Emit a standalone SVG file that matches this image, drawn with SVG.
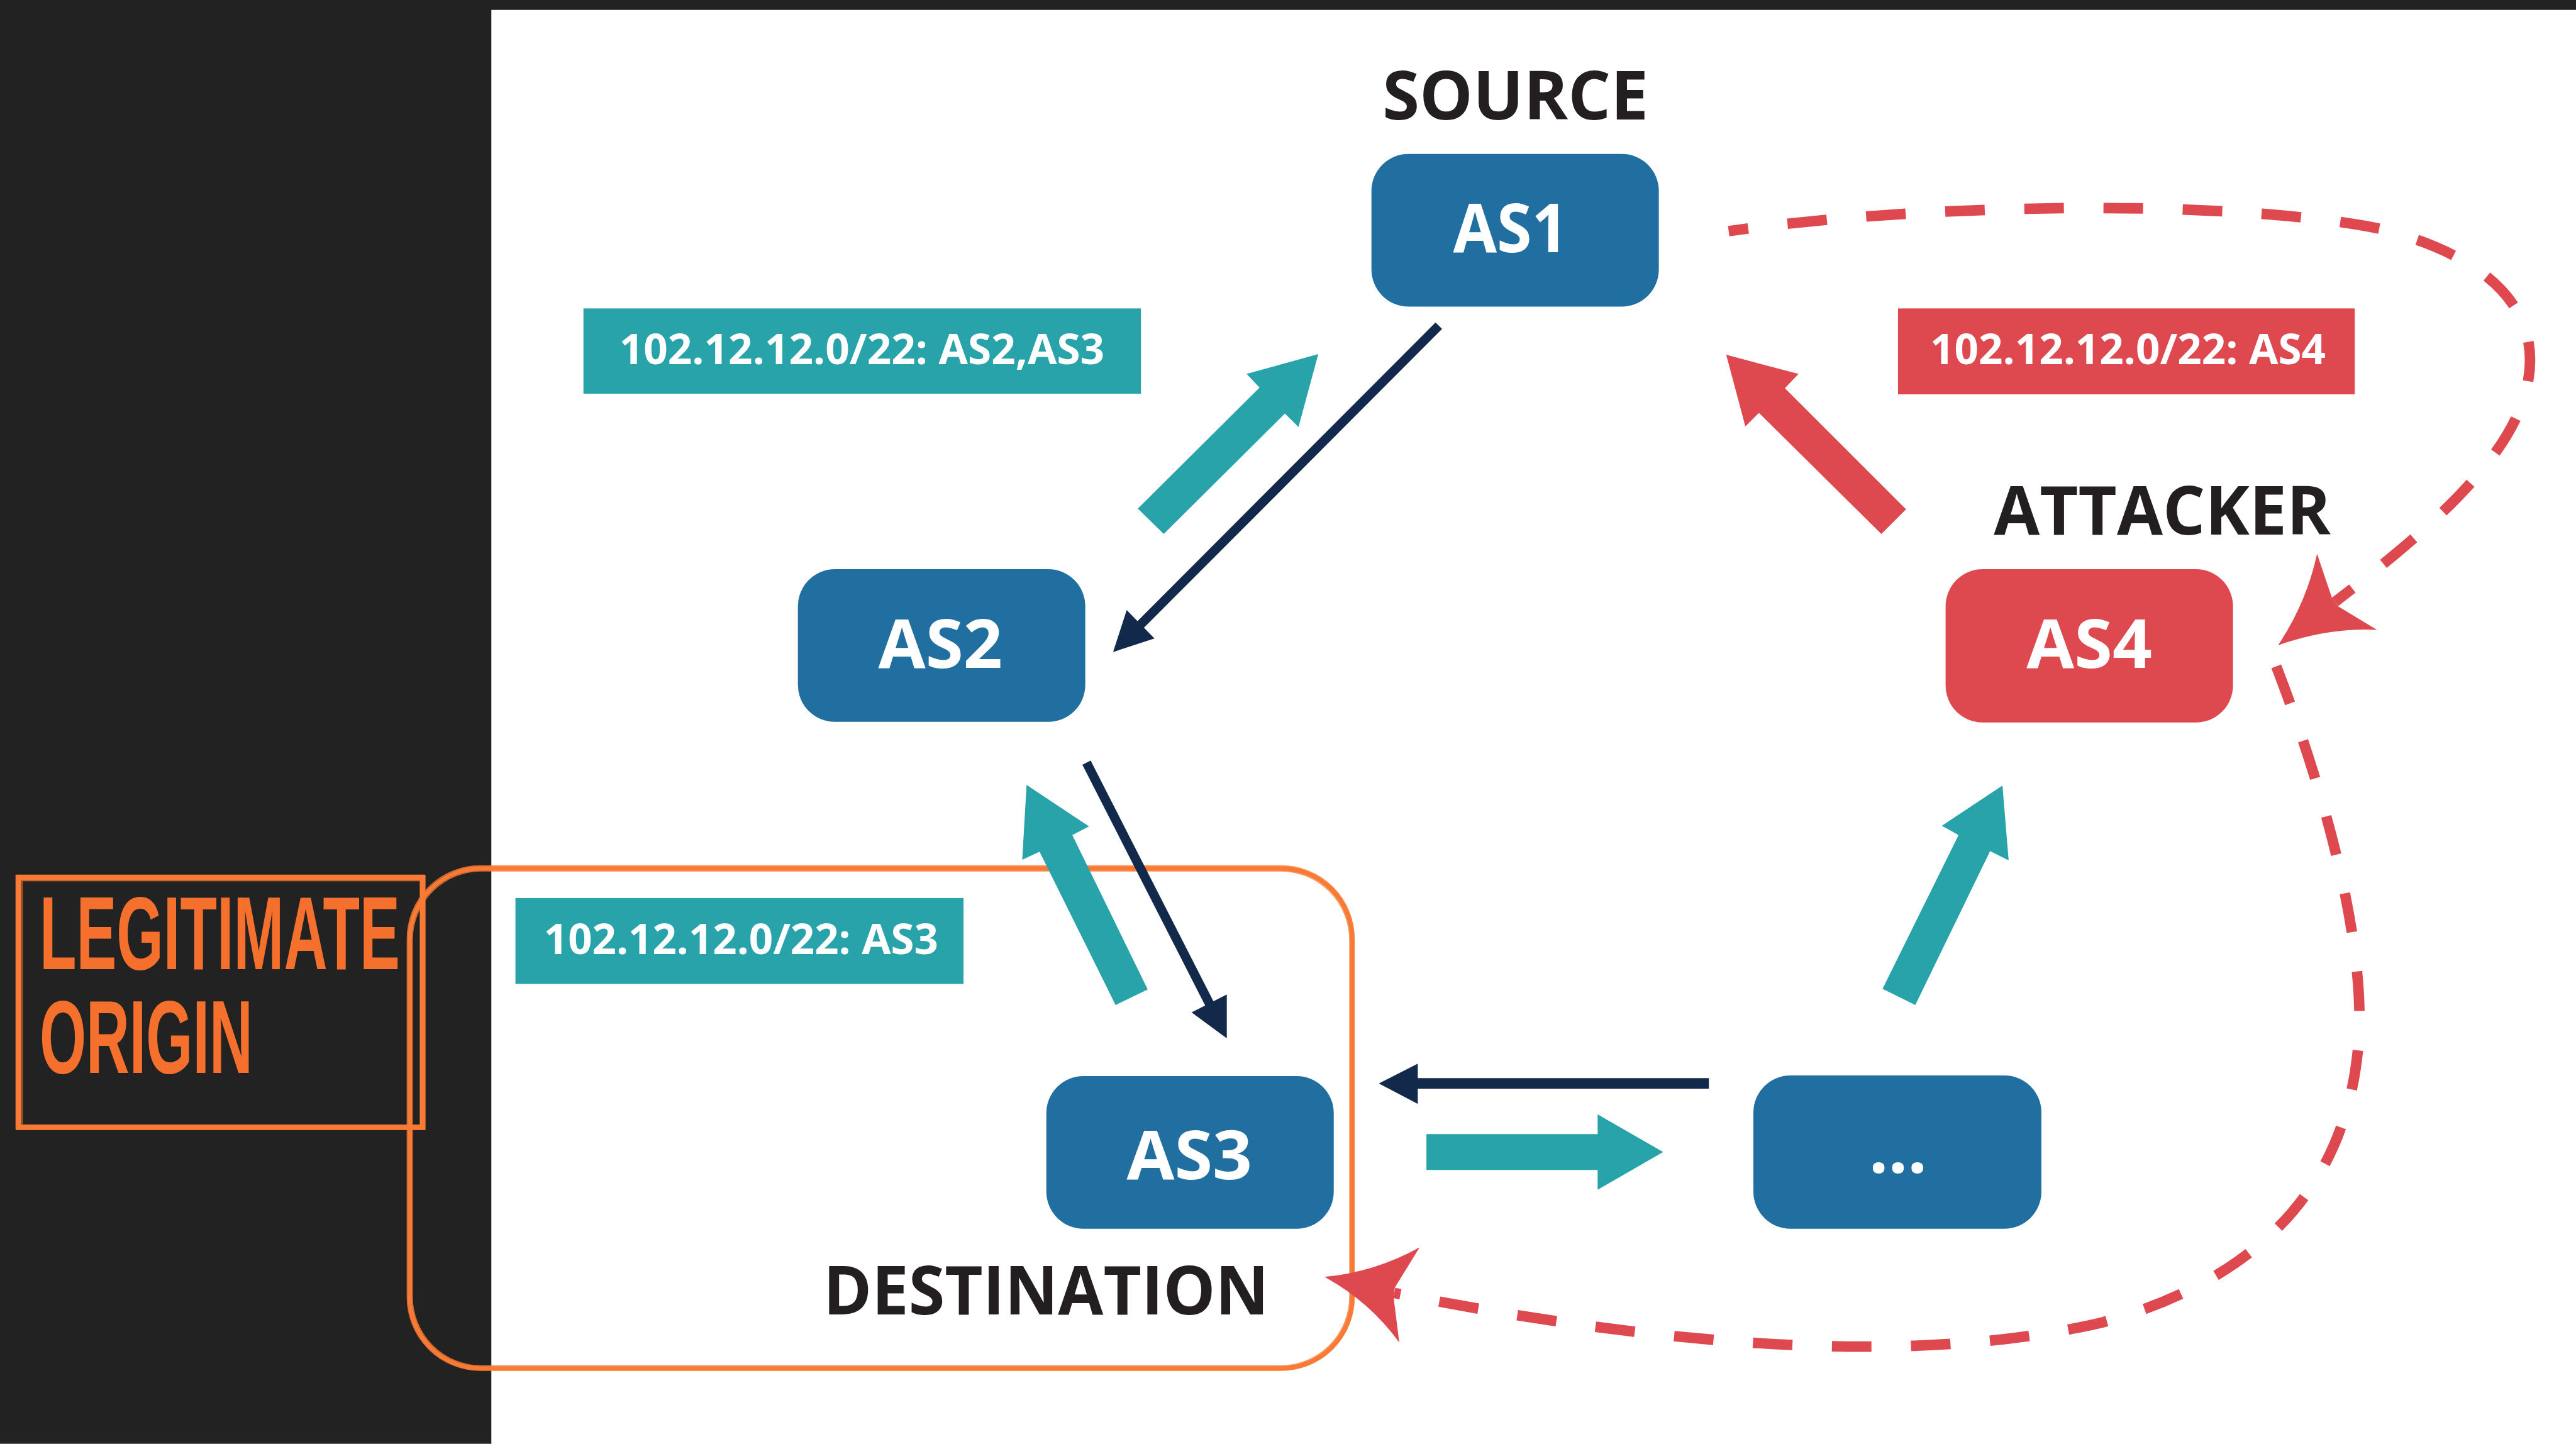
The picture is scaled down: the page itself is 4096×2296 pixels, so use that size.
<svg xmlns="http://www.w3.org/2000/svg" width="4096" height="2296" viewBox="0 0 4096 2296">
<style>
.node{fill:#216fa0}
.red{fill:#de4950}
.teal{fill:#27a3a9}
.navy{fill:#13294b}
.navyline{stroke:#13294b;stroke-width:15;fill:none}
.dash{fill:none;stroke:#de4950;stroke-width:17;stroke-dasharray:64 64}
.nt{font-family:"Open Sans","Liberation Sans",sans-serif;font-weight:700;font-size:110px;fill:#ffffff}
.ht{font-family:"Open Sans","Liberation Sans",sans-serif;font-weight:700;font-size:110px;fill:#231f20}
.lt{font-family:"Open Sans","Liberation Sans",sans-serif;font-weight:700;font-size:67px;fill:#ffffff}
.ot{font-family:"Liberation Sans",sans-serif;font-weight:700;font-size:169px;fill:#f5702c}
.sk{fill:none;stroke:#f87a34}
</style>
<g transform="scale(0.982726)">
<rect x="0" y="0" width="4168" height="2336" fill="#ffffff"/>
<rect x="0" y="0" width="795" height="2336" fill="#222222"/>
<rect x="0" y="0" width="4168" height="16" fill="#222222"/>

<g id="legitimate-origin">
<rect class="sk" x="30" y="1420" width="654" height="404" stroke-width="9"/>
<rect class="sk" x="26" y="1416" width="660" height="410" stroke-width="2" opacity="0.7"/>
<rect class="sk" x="36" y="1425" width="644" height="396" stroke-width="2" opacity="0.6"/>
<text class="ot" transform="translate(64,1568) scale(0.57,1)"><tspan x="0" y="0" textLength="1023" lengthAdjust="spacingAndGlyphs">LEGITIMATE</tspan><tspan x="0" y="168" textLength="605" lengthAdjust="spacingAndGlyphs">ORIGIN</tspan></text>
</g>

<g id="destination-group">
<rect class="sk" x="663" y="1405" width="1525" height="809" rx="115" stroke-width="7"/>
<rect class="sk" x="659" y="1401" width="1532" height="816" rx="118" stroke-width="2" opacity="0.8"/>
<rect class="sk" x="667" y="1409" width="1517" height="801" rx="112" stroke-width="2" opacity="0.8"/>
</g>

<g id="connectors">
<polygon class="teal" points="1841,823 2038,627 2017,605 2133,573 2101,691 2079,669 1883,864"/>
<line class="navyline" x1="2328" y1="527" x2="1835" y2="1021"/>
<polygon class="navy" points="1801,1055 1823,987 1868,1033"/>
<polygon class="red" points="3084,824 2888,628 2910,605 2793,574 2824,690 2846,668 3044,864"/>
<polygon class="teal" points="1805,1626 1682,1378 1654,1391 1661,1270 1762,1337 1735,1351 1857,1601"/>
<line class="navyline" x1="1758" y1="1234" x2="1960" y2="1630"/>
<polygon class="navy" points="1985,1680 1928,1638 1985,1609"/>
<polygon class="teal" points="2308,1835 2585,1835 2585,1803 2691,1864 2585,1925 2585,1893 2308,1893"/>
<line x1="2765" y1="1753" x2="2280" y2="1753" stroke="#13294b" stroke-width="17"/>
<polygon class="navy" points="2231,1753 2294,1721 2294,1786"/>
<polygon class="teal" points="3046,1600 3169,1351 3142,1336 3240,1271 3250,1392 3220,1377 3099,1626"/>
<path class="dash" stroke-dashoffset="32" d="M2797,374 C3100,330 3600,320 3850,370 C4050,420 4120,520 4085,640 C4050,760 3900,880 3778,974"/>
<path class="red" d="M3686,1044 Q3732,975 3749,896 L3773,967 L3783,981 L3846,1019 Q3768,1015 3686,1044 Z"/>
<path class="dash" d="M3683,1078 C3780,1330 3830,1560 3815,1700 C3790,1950 3620,2080 3400,2140 C3100,2210 2700,2180 2256,2092"/>
<path class="red" d="M2143,2066 Q2225,2058 2297,2018 L2257,2083 L2255,2100 L2264,2172 Q2215,2105 2143,2066 Z"/>
</g>

<g id="as1">
<text class="ht" x="2237" y="193" textLength="430" lengthAdjust="spacingAndGlyphs">SOURCE</text>
<rect class="node" x="2219" y="249" width="465" height="247" rx="60"/>
<text class="nt" x="2351" y="408" textLength="186" lengthAdjust="spacingAndGlyphs">AS1</text>
</g>

<g id="as2">
<rect class="node" x="1291" y="921" width="465" height="247" rx="60"/>
<text class="nt" x="1421" y="1081" textLength="201" lengthAdjust="spacingAndGlyphs">AS2</text>
</g>

<g id="as3">
<rect class="node" x="1693" y="1741" width="465" height="247" rx="60"/>
<text class="nt" x="1823" y="1908" textLength="203" lengthAdjust="spacingAndGlyphs">AS3</text>
<text class="ht" x="1332" y="2127" textLength="721" lengthAdjust="spacingAndGlyphs">DESTINATION</text>
</g>

<g id="as4">
<text class="ht" x="3226" y="865" textLength="545" lengthAdjust="spacingAndGlyphs">ATTACKER</text>
<rect class="red" x="3148" y="921" width="465" height="248" rx="60"/>
<text class="nt" x="3279" y="1081" textLength="203" lengthAdjust="spacingAndGlyphs">AS4</text>
</g>

<g id="as-other">
<rect class="node" x="2837" y="1740" width="466" height="248" rx="60"/>
<text class="nt" x="3071" y="1898" text-anchor="middle" font-size="125">...</text>
</g>

<g id="label-as2-as3">
<rect class="teal" x="944" y="499" width="902" height="138"/>
<text class="lt" x="1002" y="589" textLength="785" lengthAdjust="spacingAndGlyphs">102.12.12.0/22: AS2,AS3</text>
</g>

<g id="label-as4">
<rect class="red" x="3071" y="499" width="739" height="139"/>
<text class="lt" x="3123" y="589" textLength="640" lengthAdjust="spacingAndGlyphs">102.12.12.0/22: AS4</text>
</g>

<g id="label-as3">
<rect class="teal" x="834" y="1453" width="725" height="139"/>
<text class="lt" x="880" y="1544" textLength="638" lengthAdjust="spacingAndGlyphs">102.12.12.0/22: AS3</text>
</g>
</g>
</svg>
